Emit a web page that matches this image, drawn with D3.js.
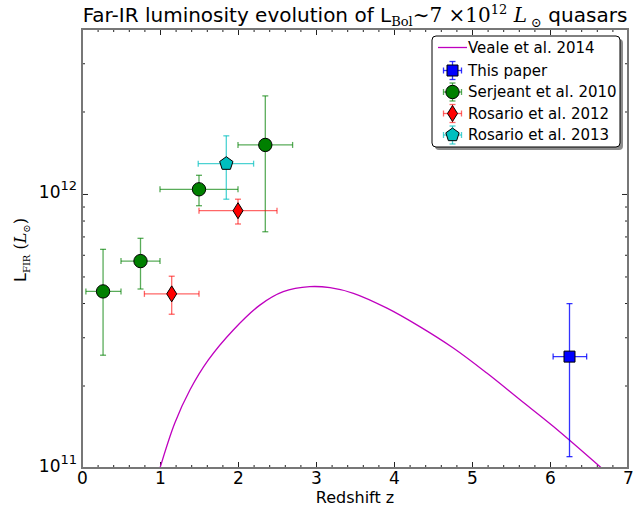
<!DOCTYPE html>
<html>
<head>
<meta charset="utf-8">
<script src="https://cdn.jsdelivr.net/npm/d3@7"></script>
<style>
  body { margin: 0; background: #fff; }
  svg { display: block; }
  .tick text { font-family: "DejaVu Sans", sans-serif; }
</style>
</head>
<body>
<div id="chart"></div>
<script>
// --- data (z, L_FIR in L_sun) ---
var vealeZ = [1.0, 1.19, 1.385, 1.62, 1.94, 2.28, 2.58, 2.92, 3.18, 3.48, 3.91, 4.33, 4.76, 5.19, 5.62, 6.04, 6.66];
var vealeL = [1.0e11, 1.46e11, 1.93e11, 2.48e11, 3.19e11, 3.93e11, 4.4e11, 4.59e11, 4.55e11, 4.34e11, 3.83e11, 3.28e11, 2.74e11, 2.22e11, 1.77e11, 1.42e11, 1.0e11];

// each point: z, zlo, zhi, L, Llo, Lhi
var thisPaper = [[6.25, 6.04, 6.47, 2.55e11, 1.1e11, 3.98e11]];
var serjeant2010 = [
  [0.27, 0.05, 0.50, 4.41e11, 2.58e11, 6.28e11],
  [0.75, 0.50, 1.00, 5.69e11, 4.50e11, 6.89e11],
  [1.50, 1.00, 2.00, 1.04e12, 9.06e11, 1.17e12],
  [2.35, 2.00, 2.70, 1.51e12, 7.28e11, 2.28e12]
];
var rosario2012 = [
  [1.15, 0.80, 1.50, 4.32e11, 3.64e11, 5.01e11],
  [2.00, 1.50, 2.50, 8.69e11, 7.77e11, 9.57e11]
];
var rosario2013 = [[1.85, 1.49, 2.20, 1.29e12, 9.57e11, 1.63e12]];

var xMajor = [0, 1, 2, 3, 4, 5, 6, 7];
var yMajor = [1e11, 1e12];
var yMinor = [2e11, 3e11, 4e11, 5e11, 6e11, 7e11, 8e11, 9e11, 2e12, 3e12, 4e12];

var series = [
  { name: "This paper", data: thisPaper, color: "#0000ff", ecolor: "#0000ff", eop: 0.8, shape: "square" },
  { name: "Serjeant et al. 2010", data: serjeant2010, color: "#008000", ecolor: "#008000", eop: 0.65, shape: "circle" },
  { name: "Rosario et al. 2012", data: rosario2012, color: "#ff0000", ecolor: "#ff0000", eop: 0.6, shape: "diamond" },
  { name: "Rosario et al. 2013", data: rosario2013, color: "#00bfbf", ecolor: "#00bfbf", eop: 0.7, shape: "pentagon" }
];

var W = 642, H = 507;
var L = 82, R = 628, T = 29, B = 468;
var sans = "'DejaVu Sans', sans-serif", serif = "'DejaVu Serif', serif";

var svg = d3.select("#chart").append("svg").attr("width", W).attr("height", H);

var x = d3.scaleLinear().domain([0, 7]).range([L, R]);
var y = d3.scaleLog().domain([1e11, 4e12]).range([B, T]);

svg.append("defs").append("clipPath").attr("id", "clip")
  .append("rect").attr("x", L).attr("y", T).attr("width", R - L).attr("height", B - T);

// --- axes (inward ticks on all four sides) ---
function styleAxis(g) {
  g.select(".domain").remove();
  g.selectAll(".tick line").attr("stroke", "#222").attr("stroke-width", 1);
}
var xMinor = d3.range(0, 7.001, 0.2);
svg.append("g").attr("transform", "translate(0," + B + ")")
  .call(d3.axisBottom(x).tickValues(xMinor).tickSize(-3).tickFormat("")).call(styleAxis);
svg.append("g").attr("transform", "translate(0," + T + ")")
  .call(d3.axisTop(x).tickValues(xMinor).tickSize(-3).tickFormat("")).call(styleAxis);
svg.append("g").attr("transform", "translate(0," + T + ")")
  .call(d3.axisTop(x).tickValues(xMajor).tickSize(-6).tickFormat("")).call(styleAxis);
var gx = svg.append("g").attr("transform", "translate(0," + B + ")")
  .call(d3.axisBottom(x).tickValues(xMajor).tickSize(-6).tickPadding(4).tickFormat(d3.format("d")))
  .call(styleAxis);
gx.selectAll("text").attr("font-size", 17).attr("fill", "#000");

[["left", L], ["right", R]].forEach(function (s) {
  var ax = s[0] === "left" ? d3.axisLeft : d3.axisRight;
  svg.append("g").attr("transform", "translate(" + s[1] + ",0)")
    .call(ax(y).tickValues(yMinor).tickSize(-3).tickFormat("")).call(styleAxis);
  svg.append("g").attr("transform", "translate(" + s[1] + ",0)")
    .call(ax(y).tickValues(yMajor).tickSize(-6).tickFormat("")).call(styleAxis);
});
var gy = svg.append("g").attr("transform", "translate(" + L + ",0)")
  .call(d3.axisLeft(y).tickValues(yMajor).tickSize(0).tickFormat(""))
  .call(styleAxis);
gy.selectAll(".tick").each(function (d) {
  var t = d3.select(this).append("text").attr("x", -5).attr("dy", "0.2em")
    .attr("text-anchor", "end").attr("font-family", sans).attr("font-size", 17).attr("fill", "#000");
  t.append("tspan").text("10");
  t.append("tspan").attr("dy", -8).attr("font-size", 13).text(Math.round(Math.log10(d)));
});

// --- Veale et al. 2014 curve ---
var line = d3.line().x(function (d) { return x(d[0]); }).y(function (d) { return y(d[1]); })
  .curve(d3.curveCatmullRom.alpha(0.5));
svg.append("path").attr("clip-path", "url(#clip)")
  .datum(vealeZ.map(function (z, i) { return [z, vealeL[i]]; }))
  .attr("d", line).attr("fill", "none").attr("stroke", "#bf00bf").attr("stroke-width", 1.3);

// --- markers ---
function shapePath(shape) {
  if (shape === "square") return "M-5.5,-5.5H5.5V5.5H-5.5Z";
  if (shape === "diamond") return "M0,-8L5,0L0,8L-5,0Z";
  if (shape === "circle") return d3.symbol(d3.symbolCircle, 140)();
  var p = [];
  for (var i = 0; i < 5; i++) {
    var a = -Math.PI / 2 + i * 2 * Math.PI / 5;
    p.push([7 * Math.cos(a), 7 * Math.sin(a)]);
  }
  return "M" + p.join("L") + "Z";
}

function errBar(g, x1, y1, x2, y2, col, op, vertical) {
  var cap = 3;
  g.append("line").attr("x1", x1).attr("y1", y1).attr("x2", x2).attr("y2", y2);
  if (vertical) {
    g.append("line").attr("x1", x1 - cap).attr("x2", x1 + cap).attr("y1", y1).attr("y2", y1);
    g.append("line").attr("x1", x2 - cap).attr("x2", x2 + cap).attr("y1", y2).attr("y2", y2);
  } else {
    g.append("line").attr("x1", x1).attr("x2", x1).attr("y1", y1 - cap).attr("y2", y1 + cap);
    g.append("line").attr("x1", x2).attr("x2", x2).attr("y1", y2 - cap).attr("y2", y2 + cap);
  }
  g.selectAll("line").attr("stroke", col).attr("stroke-opacity", op).attr("stroke-width", 1.3);
}

series.forEach(function (s) {
  var g = svg.append("g").attr("clip-path", "url(#clip)");
  s.data.forEach(function (d) {
    var px = x(d[0]), py = y(d[3]);
    errBar(g.append("g"), x(d[1]), py, x(d[2]), py, s.ecolor, s.eop, false);
    errBar(g.append("g"), px, y(d[5]), px, y(d[4]), s.ecolor, s.eop, true);
    g.append("path").attr("d", shapePath(s.shape)).attr("transform", "translate(" + px + "," + py + ")")
      .attr("fill", s.color).attr("stroke", "#000").attr("stroke-width", 1);
  });
});

// --- frame ---
svg.append("rect").attr("x", L).attr("y", T).attr("width", R - L).attr("height", B - T)
  .attr("fill", "none").attr("stroke", "#777").attr("stroke-width", 2);

// --- legend ---
var lg = svg.append("g").attr("transform", "translate(432,36)");
lg.append("rect").attr("x", 3).attr("y", 3).attr("width", 188).attr("height", 111).attr("rx", 4)
  .attr("fill", "#000").attr("fill-opacity", 0.45);
lg.append("rect").attr("width", 188).attr("height", 111).attr("rx", 4)
  .attr("fill", "#fff").attr("stroke", "#000").attr("stroke-width", 1);
var rowY = [11.5, 34.5, 56, 77.5, 99];
lg.append("line").attr("x1", 6).attr("x2", 35).attr("y1", rowY[0]).attr("y2", rowY[0])
  .attr("stroke", "#bf00bf").attr("stroke-width", 1.3);
lg.append("text").attr("x", 36).attr("y", rowY[0]).attr("dy", "0.35em")
  .attr("font-family", sans).attr("font-size", 15).text("Veale et al. 2014");
series.forEach(function (s, i) {
  var ry = rowY[i + 1], cx = 20.5;
  var eg = lg.append("g");
  errBar(eg.append("g"), cx - 9, ry, cx + 9, ry, s.ecolor, s.eop, false);
  errBar(eg.append("g"), cx, ry - 9, cx, ry + 9, s.ecolor, s.eop, true);
  lg.append("path").attr("d", shapePath(s.shape)).attr("transform", "translate(" + cx + "," + ry + ")")
    .attr("fill", s.color).attr("stroke", "#000").attr("stroke-width", 1);
  lg.append("text").attr("x", 36).attr("y", ry).attr("dy", "0.35em")
    .attr("font-family", sans).attr("font-size", 15).text(s.name);
});

// --- title ---
var title = svg.append("text").attr("x", (L + R) / 2).attr("y", 22).attr("text-anchor", "middle")
  .attr("font-family", sans).attr("font-size", 20).attr("fill", "#000");
title.append("tspan").text("Far-IR luminosity evolution of L");
title.append("tspan").attr("font-family", serif).attr("font-size", 13).attr("dy", 4).text("Bol");
title.append("tspan").attr("font-family", serif).attr("dy", -4).text("\u223C7 \u00D710");
title.append("tspan").attr("font-family", serif).attr("font-size", 13).attr("dy", -8).text("12");
title.append("tspan").attr("font-family", serif).attr("font-style", "italic").attr("dy", 8).text(" L");
title.append("tspan").attr("font-family", serif).attr("font-size", 13).attr("dy", 5).text(" \u2299");
title.append("tspan").attr("dy", -5).text(" quasars");

// --- axis labels ---
svg.append("text").attr("x", (L + R) / 2).attr("y", 503).attr("text-anchor", "middle")
  .attr("font-family", sans).attr("font-size", 16).text("Redshift z");

var yl = svg.append("text").attr("transform", "translate(26,250) rotate(-90)")
  .attr("text-anchor", "middle").attr("font-family", sans).attr("font-size", 16);
yl.append("tspan").text("L");
yl.append("tspan").attr("font-family", serif).attr("font-size", 10).attr("dy", 4).text("FIR");
yl.append("tspan").attr("font-family", serif).attr("dy", -4).text(" (");
yl.append("tspan").attr("font-family", serif).attr("font-style", "italic").text("L");
yl.append("tspan").attr("font-family", serif).attr("font-size", 10).attr("dy", 4).text("\u2299");
yl.append("tspan").attr("font-family", serif).attr("dy", -4).text(")");
</script>
</body>
</html>
